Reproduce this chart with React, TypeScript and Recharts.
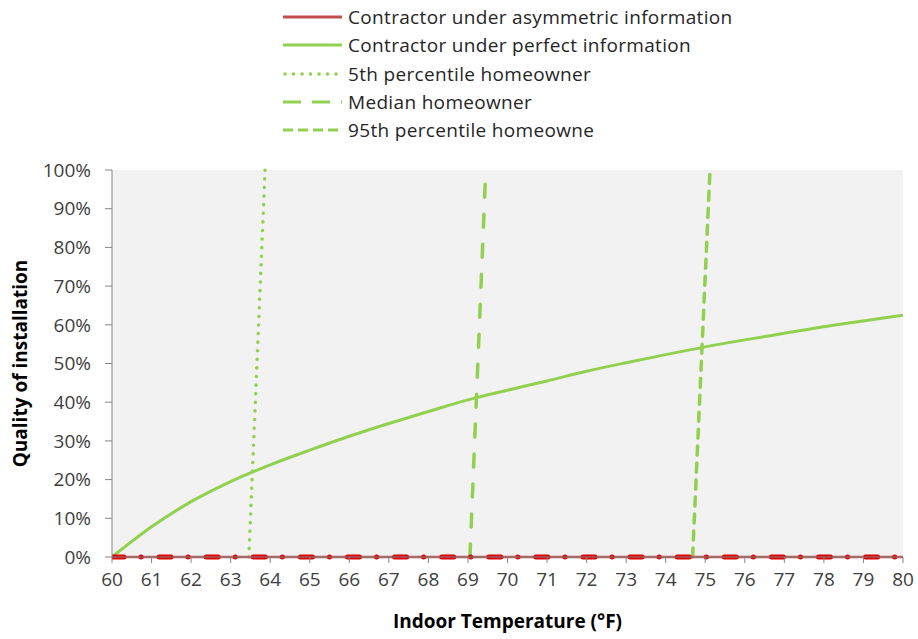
import React from 'react';
import { LineChart, Line, XAxis, YAxis, CartesianGrid, Legend } from 'recharts';

// ---- data ----
const temps = [60, 61, 62, 63, 64, 65, 66, 67, 68, 69, 70, 71, 72, 73, 74, 75, 76, 77, 78, 79, 80];
const perfectInfo = [0, 7.8, 14.3, 19.5, 23.8, 27.6, 31.2, 34.5, 37.6, 40.6, 43.1, 45.5, 48.0, 50.2, 52.3, 54.3, 56.1, 57.8, 59.5, 61.0, 62.5];
const asymTemps = [60, 80];
const asymValues = [0, 0];
const p5Temps = [63.46, 63.87];
const p5Values = [0, 100];
const medianTemps = [69.05, 69.45];
const medianValues = [0, 100];
const p95Temps = [74.68, 75.12];
const p95Values = [0, 100];
const yTicks = [0, 10, 20, 30, 40, 50, 60, 70, 80, 90, 100];

const seriesNames = [
  'Contractor under asymmetric information',
  'Contractor under perfect information',
  '5th percentile homeowner',
  'Median homeowner',
  '95th percentile homeowne',
];

const toRows = (xs: number[], ys: number[]) => xs.map((x, i) => ({ x, y: ys[i] }));
const perfectData = toRows(temps, perfectInfo);
const asymData = toRows(asymTemps, asymValues);
const p5Data = toRows(p5Temps, p5Values);
const medianData = toRows(medianTemps, medianValues);
const p95Data = toRows(p95Temps, p95Values);

const RED = '#c0504d';
const GREEN = '#92d050';

const legendStyles = [
  { color: RED, dash: undefined as string | undefined, cap: 'butt' as const },
  { color: GREEN, dash: undefined as string | undefined, cap: 'butt' as const },
  { color: GREEN, dash: '0.1 8.4', cap: 'round' as const },
  { color: GREEN, dash: '18 11', cap: 'butt' as const },
  { color: GREEN, dash: '10 5', cap: 'butt' as const },
];

const LegendContent = () => (
  <div style={{ height: 167, position: 'relative', width: 918 }}>
    {seriesNames.map((name, i) => (
      <div
        key={name}
        style={{
          position: 'absolute',
          left: 283,
          top: i * 28.3,
          height: 28,
          display: 'flex',
          alignItems: 'center',
        }}
      >
        <svg width={60} height={28} style={{ display: 'block' }}>
          <line
            x1={legendStyles[i].cap === 'round' ? 2 : 0}
            x2={59}
            y1={14}
            y2={14}
            stroke={legendStyles[i].color}
            strokeWidth={legendStyles[i].cap === 'round' ? 3.5 : 3}
            strokeDasharray={legendStyles[i].dash}
            strokeLinecap={legendStyles[i].cap}
          />
        </svg>
        <span style={{ marginLeft: 5, fontSize: 19, letterSpacing: 0.33, color: '#262626', lineHeight: '28px', whiteSpace: 'nowrap' }}>
          {name}
        </span>
      </div>
    ))}
  </div>
);

export default function App() {
  return (
    <div style={{ position: 'absolute', left: 0, top: 0, width: 918, height: 639, fontFamily: '"Open Sans", sans-serif', background: '#fff' }}>
      <LineChart width={918} height={639} margin={{ top: 3, right: 15, bottom: 0, left: 0 }}>
        <CartesianGrid fill="#f2f2f2" horizontal={false} vertical={false} stroke="none" />
        <XAxis
          type="number"
          dataKey="x"
          domain={[60, 80]}
          ticks={temps}
          allowDataOverflow
          height={82}
          tickSize={6}
          tickMargin={10}
          stroke="#868686"
          tick={{ fill: '#404040', fontSize: 19 }}
          label={{ value: 'Indoor Temperature (°F)', position: 'insideBottom', offset: 11, style: { fontWeight: 700, fontSize: 19, fill: '#000', textAnchor: 'middle' } }}
        />
        <YAxis
          type="number"
          dataKey="y"
          domain={[0, 100]}
          ticks={yTicks}
          width={112}
          tickSize={7}
          tickMargin={14}
          stroke="#868686"
          tickFormatter={(v: number) => `${v}%`}
          tick={{ fill: '#404040', fontSize: 19 }}
          label={{ value: 'Quality of installation', angle: -90, position: 'insideLeft', offset: 20, style: { fontWeight: 700, fontSize: 19, fill: '#000', textAnchor: 'middle' } }}
        />
        <Legend
          verticalAlign="top"
          align="left"
          content={<LegendContent />}
          wrapperStyle={{ top: 3, left: 0, width: 918, height: 167, margin: 0 }}
        />
        <Line
          data={perfectData}
          dataKey="y"
          name={seriesNames[1]}
          type="monotone"
          stroke={GREEN}
          strokeWidth={3}
          dot={false}
          activeDot={false}
          isAnimationActive={false}
        />
        <Line
          data={p5Data}
          dataKey="y"
          name={seriesNames[2]}
          type="linear"
          stroke={GREEN}
          strokeWidth={3.5}
          strokeDasharray="0.1 8.5"
          strokeLinecap="round"
          dot={false}
          activeDot={false}
          isAnimationActive={false}
        />
        <Line
          data={medianData}
          dataKey="y"
          name={seriesNames[3]}
          type="linear"
          stroke={GREEN}
          strokeWidth={3.5}
          strokeDasharray="13 17"
          strokeLinecap="round"
          dot={false}
          activeDot={false}
          isAnimationActive={false}
        />
        <Line
          data={p95Data}
          dataKey="y"
          name={seriesNames[4]}
          type="linear"
          stroke={GREEN}
          strokeWidth={3.5}
          strokeDasharray="9 8"
          strokeLinecap="round"
          dot={false}
          activeDot={false}
          isAnimationActive={false}
        />
        <Line
          data={asymData}
          dataKey="y"
          name={seriesNames[0]}
          type="linear"
          stroke={RED}
          strokeWidth={2.5}
          dot={false}
          activeDot={false}
          isAnimationActive={false}
        />
        <Line
          data={asymData}
          dataKey="y"
          name="asym-overlay"
          legendType="none"
          type="linear"
          stroke="#dd0000"
          strokeWidth={5}
          strokeDasharray="12 17 0.1 18"
          strokeLinecap="round"
          dot={false}
          activeDot={false}
          isAnimationActive={false}
        />
      </LineChart>
    </div>
  );
}
